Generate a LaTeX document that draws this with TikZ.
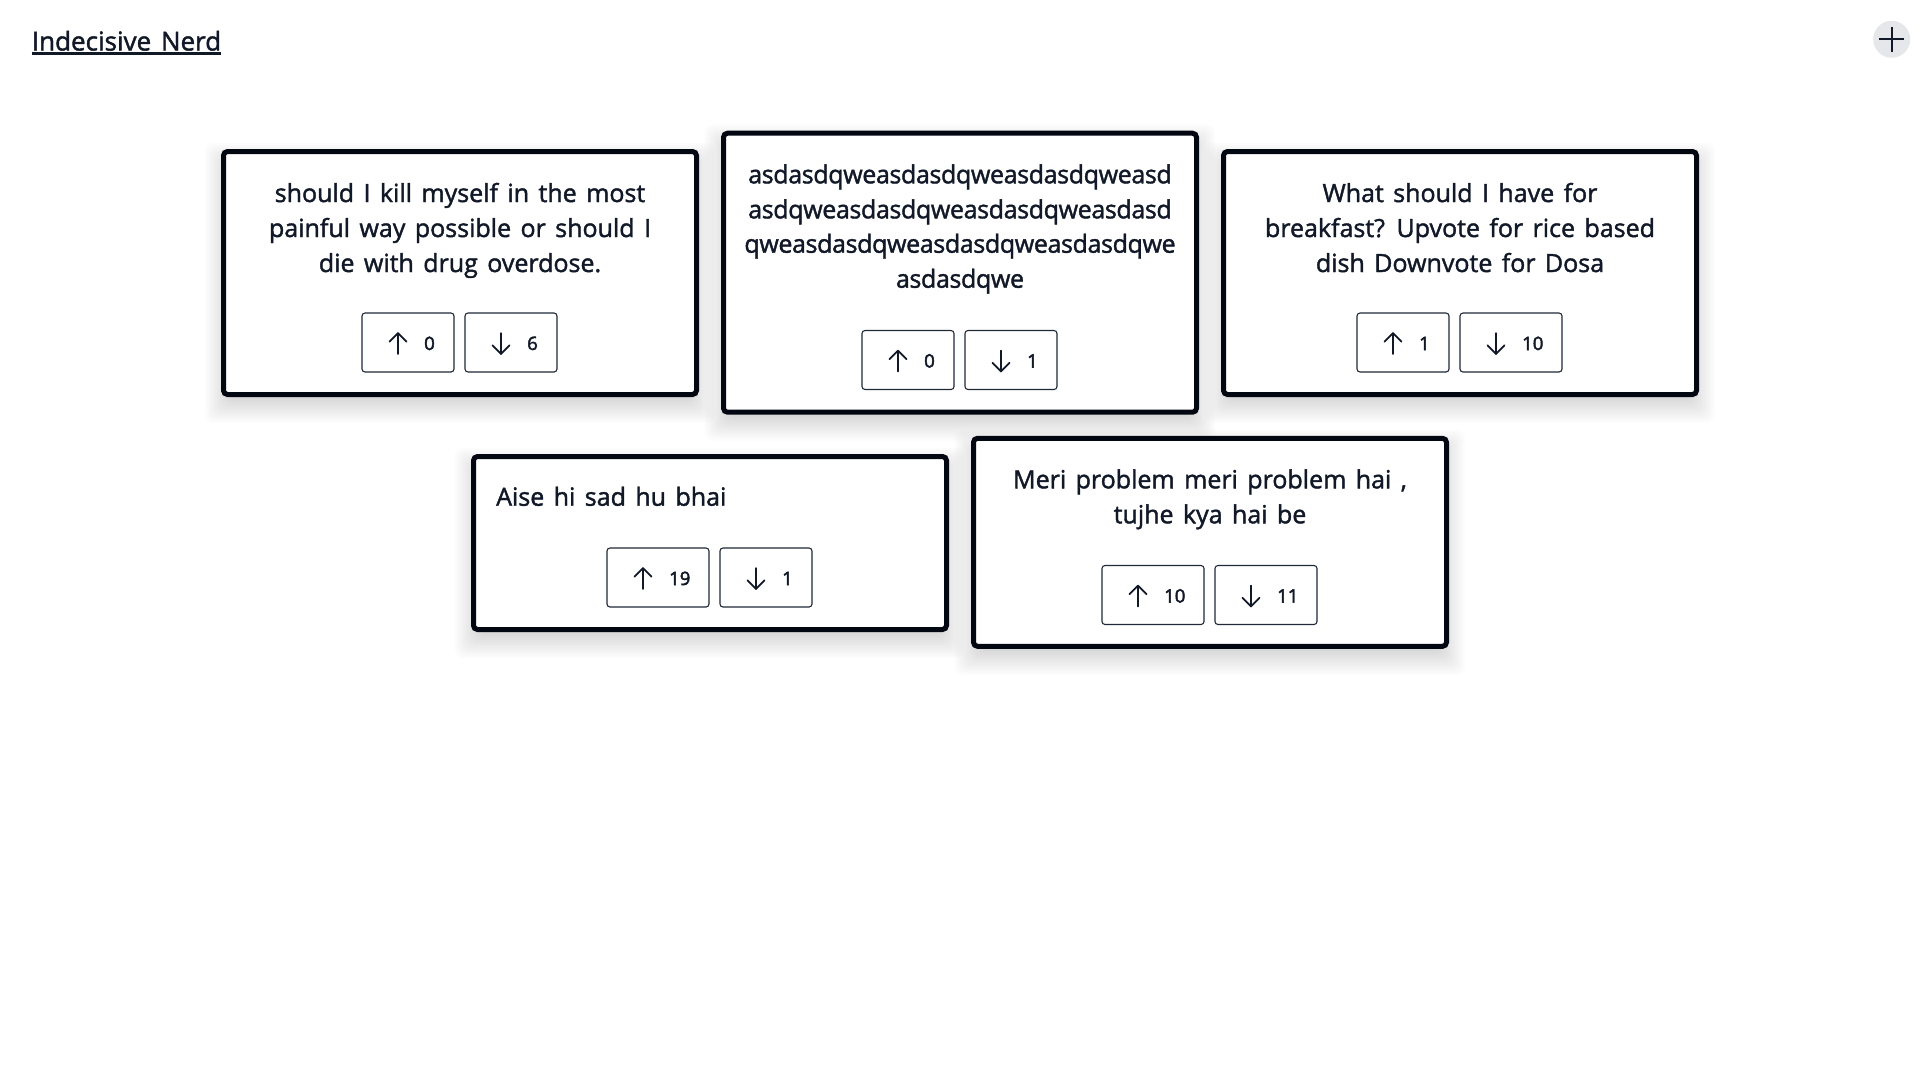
\documentclass[tikz,border=0pt]{standalone}
\usepackage{fontspec}
\setmainfont{Open Sans}
\newfontfamily\uifont{Open Sans}[FakeBold=1.6, WordSpace=1.45]
\newfontfamily\asdfont{Open Sans}[FakeBold=1.6, LetterSpace=-1.5]
\newfontfamily\digitfont{Open Sans}[FakeBold=2.6]
\definecolor{ink}{HTML}{111827}
\definecolor{cardborder}{HTML}{030712}
\definecolor{btnborder}{HTML}{1F2937}
\definecolor{plusbg}{HTML}{E5E7EB}
\newcommand\maintext{\uifont\fontsize{25}{35}\selectfont}
\newcommand\asdtext{\asdfont\fontsize{25}{35}\selectfont}
\newcommand\numtext{\digitfont\fontsize{18.5}{22}\selectfont}
\newcommand\titletext{\uifont\fontsize{26}{30}\selectfont}
\tikzset{
  card/.style={draw=cardborder, line width=5pt, fill=white, rounded corners=4pt, inner sep=0pt, outer sep=0pt},
  btn/.style={draw=btnborder, line width=1.1pt, rounded corners=3pt, inner sep=0pt, outer sep=0pt, fill=white},
  txt/.style={font=\maintext, text=ink, inner sep=0pt, anchor=base},
  asdtxt/.style={font=\asdtext, text=ink, inner sep=0pt, anchor=base},
  txtl/.style={font=\maintext, text=ink, inner sep=0pt, anchor=base west},
  num/.style={font=\numtext, text=ink, inner sep=0pt, anchor=base west},
  arr/.style={draw=ink, line width=1.7pt, line cap=round, line join=round},
  plusline/.style={draw=ink, line width=2.2pt},
  shadowlayer/.style={fill=black, opacity=0.011, rounded corners=8pt}
}
\newcommand\cardshadow[4]{%
  \foreach \r in {-8,-6,...,16}{%
    \fill[shadowlayer] ({#1-\r},{#2+10-\r}) rectangle ({#3+\r},{#4+10+\r});
  }}
% name, left, center y, width, direction (-1 up, 1 down), number
\newcommand\votebtn[6]{%
  \node[btn, minimum width=#4pt, minimum height=59pt] (#1) at ({#2+#4/2},#3) {};
  \pgfmathsetmacro\ax{#2+36}%
  \pgfmathsetmacro\tipy{#3+1+#5*10.4}%
  \pgfmathsetmacro\taily{#3+1-#5*10.4}%
  \pgfmathsetmacro\wingy{\tipy-#5*8.6}%
  \draw[arr] (\ax,\taily) -- (\ax,\tipy);
  \draw[arr] ({\ax-8.6},\wingy) -- (\ax,\tipy) -- ({\ax+8.6},\wingy);
  \node[num] (#1n) at ({#2+62},{#3+7.5}) {#6};
}
\begin{document}
\begin{tikzpicture}[x=1pt,y=-1pt]
\useasboundingbox (0,0) rectangle (1920,1080);
\fill[white] (0,0) rectangle (1920,1080);

% title
\node[font=\titletext, text=ink, inner sep=0pt, anchor=base west] (title) at (31.7,50.5) {Indecisive Nerd};
\draw[ink, line width=2.6pt] ([yshift=-2.8pt]title.base west) -- ([yshift=-2.8pt]title.base east);

% plus button
\node[circle, fill=plusbg, minimum size=37pt, inner sep=0pt] (plus) at (1891.7,39.3) {};
\draw[plusline] ([xshift=-12.5pt]plus.center) -- ([xshift=12.5pt]plus.center);
\draw[plusline] ([yshift=-12.8pt]plus.center) -- ([yshift=12.8pt]plus.center);

% shadows
\cardshadow{221}{149}{699}{397}
\cardshadow{720.7}{130.7}{1199}{414.7}
\cardshadow{1220.7}{149}{1699}{396.7}
\cardshadow{470.7}{454}{949}{632}
\cardshadow{970.7}{435.7}{1449}{649}

% cards
\node[card, minimum width=473pt, minimum height=243pt] (c1) at (460,273) {};
\node[card, minimum width=473pt, minimum height=279pt] (c2) at (960,272.7) {};
\node[card, minimum width=473pt, minimum height=243pt] (c3) at (1460,273) {};
\node[card, minimum width=473pt, minimum height=173pt] (c4) at (710,543) {};
\node[card, minimum width=473pt, minimum height=208pt] (c5) at (1210,542.3) {};

% card 1
\node[txt] (c1a) at (460,202) {should I kill myself in the most};
\node[txt] (c1b) at (460,237) {painful way possible or should I};
\node[txt] (c1c) at (460,272) {die with drug overdose.};
\votebtn{c1up}{362}{342.5}{92}{-1}{0}
\votebtn{c1dn}{465}{342.5}{92}{1}{6}

% card 2
\node[asdtxt] (c2a) at (960,183.3) {asdasdqweasdasdqweasdasdqweasd};
\node[asdtxt] (c2b) at (960,218.3) {asdqweasdasdqweasdasdqweasdasd};
\node[asdtxt] (c2c) at (960,252.7) {qweasdasdqweasdasdqweasdasdqwe};
\node[asdtxt] (c2d) at (960,287.7) {asdasdqwe};
\votebtn{c2up}{862}{360}{92}{-1}{0}
\votebtn{c2dn}{965}{360}{92}{1}{1}

% card 3
\node[txt] (c3a) at (1460,202) {What should I have for};
\node[txt] (c3b) at (1460,237) {breakfast? Upvote for rice based};
\node[txt] (c3c) at (1460,272) {dish Downvote for Dosa};
\votebtn{c3up}{1357}{342.5}{92}{-1}{1}
\votebtn{c3dn}{1460}{342.5}{102}{1}{10}

% card 4
\node[txtl] (c4a) at (496,505.7) {Aise hi sad hu bhai};
\votebtn{c4up}{607}{577.5}{102}{-1}{19}
\votebtn{c4dn}{720}{577.5}{92}{1}{1}

% card 5
\node[txt] (c5a) at (1210,488.3) {Meri problem meri problem hai ,};
\node[txt] (c5b) at (1210,523.3) {tujhe kya hai be};
\votebtn{c5up}{1102}{595}{102}{-1}{10}
\votebtn{c5dn}{1215}{595}{102}{1}{11}
\end{tikzpicture}
\end{document}
